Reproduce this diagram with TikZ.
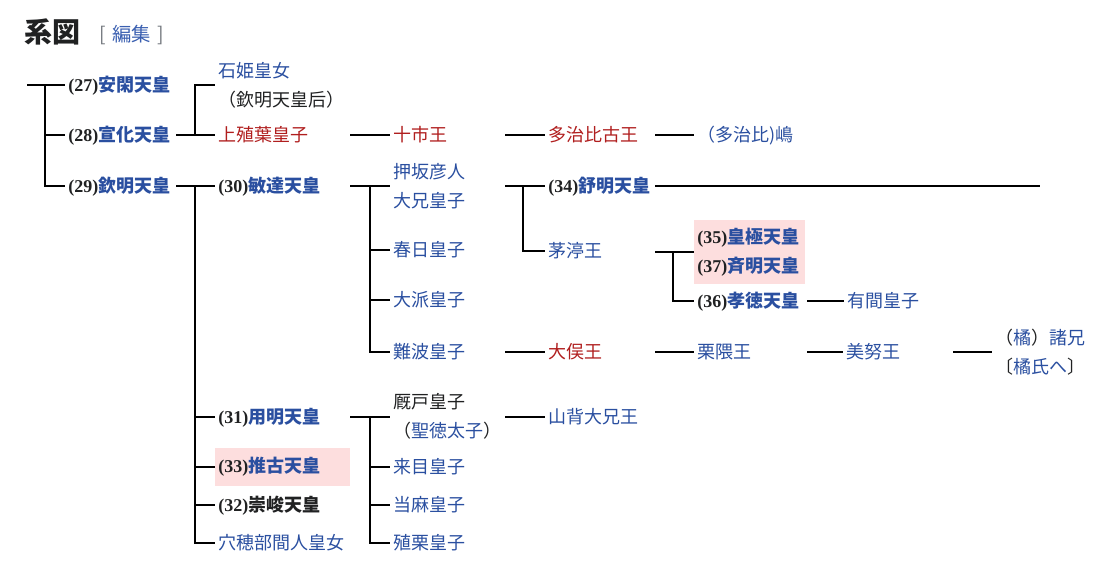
\documentclass[tikz,border=0pt]{standalone}
\usepackage{fontspec}
\setmainfont{Noto Sans CJK JP}
\newfontfamily\numserif{Liberation Serif}
\usepackage{xcolor}
\definecolor{LinkBlue}{HTML}{2A4FA0}
\definecolor{EditBlue}{HTML}{3A5FB0}
\definecolor{RedLink}{HTML}{B01E1E}
\definecolor{Ink}{HTML}{202122}
\definecolor{PinkBg}{HTML}{FDDEDE}
\definecolor{BrGray}{HTML}{72777D}
\newcommand\jpsize{\fontsize{13.5pt}{21.75pt}\selectfont}
\newcommand\reign[3][LinkBlue]{{\color{Ink}\numserif\bfseries(#2)}{\bfseries\color{#1}#3}}
\newcommand\ink[1]{\textcolor{Ink}{#1}}

\begin{document}
\begin{tikzpicture}[x=0.75pt,y=-0.75pt,
  every node/.style={inner sep=0pt,font=\jpsize},
  kid/.style={anchor=west,text height=11.9pt,text depth=1.6pt,text=LinkBlue},
  redlink/.style={kid,text=RedLink},
  plain/.style={kid,text=Ink},
  pair/.style={anchor=west,align=left,text=LinkBlue},
  hl/.style={anchor=west,fill=PinkBg,inner xsep=2.25pt,align=left,text=LinkBlue},
  tree/.style={line width=1.5pt,shorten >=2.25pt}]
  \useasboundingbox (0,0) rectangle (1114,588);

  \node[anchor=west,font=\fontsize{21pt}{24pt}\selectfont\bfseries,text=Ink] (title) at (24,32) {系図};
  \node[anchor=west,font=\fontsize{14.5pt}{17pt}\selectfont,text=BrGray] (edit) at (99,35) {[\,\,\textcolor{EditBlue}{編集}\,\,]};

  % gutters of the table
  \coordinate (root) at (27,85);
  \coordinate (v0) at (45,0);
  \coordinate (s1) at (176,0);  \coordinate (v1) at (195,0);
  \coordinate (s2) at (350,0);  \coordinate (v2) at (370,0);
  \coordinate (s3) at (505,0);  \coordinate (v3) at (523,0);
  \coordinate (s4) at (655,0);  \coordinate (v4) at (673,0);
  \coordinate (s5) at (807,0);
  \coordinate (s6) at (953,0);
  \coordinate (far) at (1040,0);

  \node[kid] (ankan) at (68,85) {\reign{27}{安閑天皇}};
  \node[kid] (senka) at (68,135) {\reign{28}{宣化天皇}};
  \node[kid] (kinmei) at (68,186) {\reign{29}{欽明天皇}};

  \node[pair] (ishi) at (218,85) {石姫皇女\\\ink{（欽明天皇后）}};
  \node[redlink] (kamiue) at (218,135) {上殖葉皇子};
  \node[kid] (bidatsu) at (218,186) {\reign{30}{敏達天皇}};
  \node[kid] (yomei) at (218,417) {\reign{31}{用明天皇}};
  \node[hl,text width=96.75pt,minimum height=28.5pt] (suiko) at (215,467) {\reign{33}{推古天皇}};
  \node[kid] (sushun) at (218,505) {\reign[Ink]{32}{崇峻天皇}};
  \node[kid] (anahobe) at (218,543) {穴穂部間人皇女};

  \node[redlink] (toichi) at (393,135) {十市王};
  \node[pair] (oshisaka) at (393,186) {押坂彦人\\大兄皇子};
  \node[kid] (kasuga) at (393,250) {春日皇子};
  \node[kid] (otomo) at (393,300) {大派皇子};
  \node[kid] (naniwa) at (393,352) {難波皇子};
  \node[pair,text=Ink] (umayado) at (393,416) {厩戸皇子\\（\textcolor{LinkBlue}{聖徳太子}）};
  \node[kid] (kume) at (393,467) {来目皇子};
  \node[kid] (taima) at (393,505) {当麻皇子};
  \node[kid] (ekuri) at (393,543) {殖栗皇子};

  \node[redlink] (tajihiko) at (548,135) {多治比古王};
  \node[kid] (jomei) at (548,186) {\reign{34}{舒明天皇}};
  \node[kid] (chinu) at (548,251) {茅渟王};
  \node[redlink] (omata) at (548,352) {大俣王};
  \node[kid] (yamashiro) at (548,417) {山背大兄王};

  \node[kid] (shima) at (697,135) {（多治比)嶋};
  \node[hl,text width=78.75pt,minimum height=48pt] (kogyoku) at (694,252) {\reign{35}{皇極天皇}\\\reign{37}{斉明天皇}};
  \node[kid] (kotoku) at (697,301) {\reign{36}{孝徳天皇}};
  \node[kid] (kurikuma) at (697,352) {栗隈王};

  \node[kid] (arima) at (847,301) {有間皇子};
  \node[kid] (mino) at (846,352) {美努王};

  \node[pair] (moroe) at (995,352) {\ink{（}橘\ink{）}諸兄\\\ink{〔}橘氏へ\ink{〕}};

  % lines of descent
  \draw[tree] (root) -- (ankan.west);
  \draw[tree] (root -| v0) |- (senka.west);
  \draw[tree] (root -| v0) |- (kinmei.west);

  \draw[tree] (s1 |- senka) -- (kamiue.west);
  \draw[tree] (v1 |- senka) |- (ishi.west);
  \draw[tree] (s1 |- kinmei) -- (bidatsu.west);
  \foreach \k in {yomei,sushun,anahobe}
    \draw[tree] (v1 |- kinmei) |- (\k.west);
  \draw[tree,shorten >=0pt] (v1 |- kinmei) |- (suiko.west);

  \draw[tree] (s2 |- kamiue) -- (toichi.west);
  \draw[tree] (s3 |- toichi) -- (tajihiko.west);
  \draw[tree] (s4 |- tajihiko) -- (shima.west);

  \draw[tree] (s2 |- bidatsu) -- (oshisaka.west);
  \foreach \k in {kasuga,otomo,naniwa}
    \draw[tree] (v2 |- bidatsu) |- (\k.west);

  \draw[tree] (s3 |- oshisaka) -- (jomei.west);
  \draw[tree] (v3 |- oshisaka) |- (chinu.west);
  \draw[tree,shorten >=0pt] (s4 |- jomei) -- (far |- jomei);

  \draw[tree,shorten >=0pt] (s4 |- kogyoku) -- (kogyoku.west);
  \draw[tree] (v4 |- kogyoku) |- (kotoku.west);
  \draw[tree] (s5 |- kotoku) -- (arima.west);

  \draw[tree] (s3 |- naniwa) -- (omata.west);
  \draw[tree] (s4 |- omata) -- (kurikuma.west);
  \draw[tree] (s5 |- kurikuma) -- (mino.west);
  \draw[tree] (s6 |- mino) -- (moroe.west);

  \draw[tree] (s2 |- yomei) -- (umayado.west |- yomei);
  \foreach \k in {kume,taima,ekuri}
    \draw[tree] (v2 |- yomei) |- (\k.west);
  \draw[tree] (s3 |- yamashiro) -- (yamashiro.west);
\end{tikzpicture}
\end{document}
